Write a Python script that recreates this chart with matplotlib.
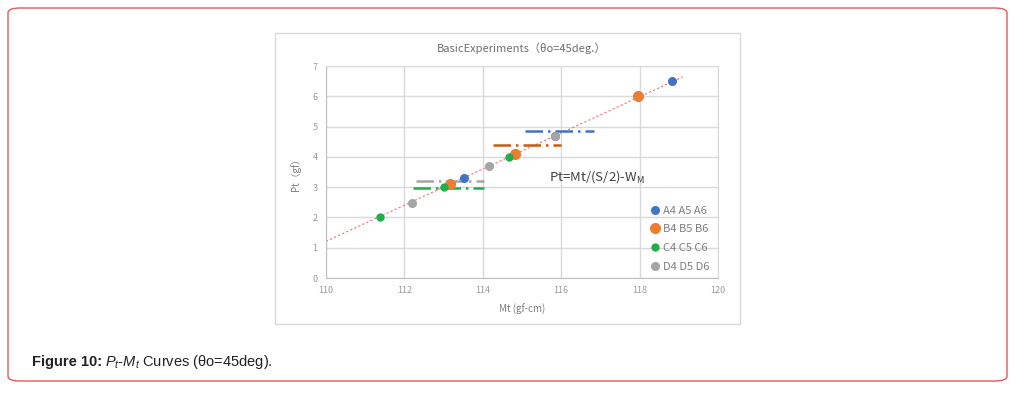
import matplotlib.pyplot as plt
import matplotlib.patches as patches

plt.rcParams['mathtext.fontset'] = 'custom'
plt.rcParams['mathtext.rm'] = 'Liberation Sans'
plt.rcParams['mathtext.it'] = 'Liberation Sans:italic'
plt.rcParams['mathtext.bf'] = 'Liberation Sans:bold'

# data
a_mt = [118.83, 113.51, 115.85]
a_pt = [6.52, 3.31, 4.70]
b_mt = [117.97, 114.83, 113.17]
b_pt = [6.01, 4.09, 3.11]
c_mt = [111.38, 113.01, 114.66]
c_pt = [2.00, 2.99, 4.00]
d_mt = [112.20, 114.17, 115.83]
d_pt = [2.49, 3.69, 4.69]

trend_mt = [110.0, 119.1]
trend_pt = [1.21, 6.64]

# horizontal dash-dot levels: (x start, x end, y)
a_level = [115.08, 116.84, 4.86]
b_level = [114.25, 116.00, 4.39]
d_level = [112.29, 114.04, 3.20]
c_level = [112.23, 114.02, 2.97]

labels = ['A4 A5 A6', 'B4 B5 B6', 'C4 C5 C6', 'D4 D5 D6']
colors = ['#4472C4', '#ED7D31', '#1FAF4B', '#A5A5A5']
level_colors = ['#4472C4', '#C55A11', '#1FAF4B', '#A5A5A5']

cjk = ['Noto Sans CJK JP', 'DejaVu Sans']
txt_gray = '#7f7f7f'

fig = plt.figure(figsize=(10.29, 3.93), dpi=100)

# outer rounded red frame
frame = patches.FancyBboxPatch((8/1029, 12/393), 999/1029, 373/393,
                               boxstyle='round,pad=0,rounding_size=0.012',
                               transform=fig.transFigure, fc='white',
                               ec='#e05a5a', lw=1.0, zorder=-2)
fig.patches.append(frame)
# light border of the chart image
inner = patches.Rectangle((275/1029, 1-324/393), 465/1029, 291/393,
                          transform=fig.transFigure, fc='white',
                          ec='#d9d9d9', lw=1.0, zorder=-1)
fig.patches.append(inner)

ax = fig.add_axes([326/1029, 1-278/393, 392/1029, 212/393])
ax.set_facecolor('none')
ax.set_xlim(110, 120)
ax.set_ylim(0, 7)
ax.set_xticks(range(110, 121, 2))
ax.set_yticks(range(0, 8))
ax.grid(True, color='#d9d9d9', lw=1.0)
ax.set_axisbelow(True)
for s in ax.spines.values():
    s.set_color('#d9d9d9')
ax.spines['bottom'].set_color('#bfbfbf')
ax.spines['left'].set_color('#bfbfbf')
ax.tick_params(length=0, labelsize=6.5, labelcolor='#999999', pad=6)
for lab in ax.get_xticklabels() + ax.get_yticklabels():
    lab.set_family(cjk)

ax.plot(trend_mt, trend_pt, ls=(0, (2, 2)), color='#f07070', lw=0.8, zorder=2)

for lv, col in zip([a_level, b_level, d_level, c_level],
                   [level_colors[0], level_colors[1], level_colors[3], level_colors[2]]):
    ax.plot(lv[:2], [lv[2], lv[2]], color=col, lw=1.8,
            ls=(0, (7, 2, 1, 2)), zorder=3)

series = [(a_mt, a_pt, 5.5), (b_mt, b_pt, 7), (c_mt, c_pt, 5), (d_mt, d_pt, 5.5)]
handles = []
for (mx, my, ms), col, lab in zip(series, colors, labels):
    h, = ax.plot(mx, my, 'o', color=col, ms=ms, mec=col, ls='none',
                 label=lab, zorder=4)
    handles.append(h)

ax.text(115.68, 3.35, 'Pt=Mt/(S/2)-W$_{\\mathregular{M}}$', fontsize=9.5,
        color='#404040', family=cjk, va='center')

leg = ax.legend(handles=handles, loc='upper left',
                bbox_to_anchor=(0.815, 0.362), frameon=False,
                handletextpad=0.15, labelspacing=0.78, handlelength=1.0,
                borderaxespad=0, prop={'family': cjk, 'size': 8})
for t in leg.get_texts():
    t.set_color(txt_gray)

ax.set_title('BasicExperiments（θo=45deg.）', fontsize=8, color='#6e6e6e',
             family=cjk, pad=10)
ax.set_xlabel('Mt (gf-cm)', fontsize=7, color=txt_gray, family=cjk, labelpad=6)
ax.set_ylabel('Pt（gf）', fontsize=7, color=txt_gray, family=cjk, labelpad=8)

cap_font = ['Liberation Sans', 'DejaVu Sans']
t1 = fig.text(32/1029, 1-362/393, 'Figure 10:', fontsize=10.5, weight='bold',
              family=cap_font, color='#222222', va='center')
fig.canvas.draw()
bb = t1.get_window_extent()
fig.text((bb.x1 + 3)/1029, 1-362/393,
         r'$\mathit{P_t}$-$\mathit{M_t}$ Curves (θo=45deg).',
         fontsize=10.5, family=cap_font, color='#222222', va='center')

fig.savefig('out.png', dpi=100)
